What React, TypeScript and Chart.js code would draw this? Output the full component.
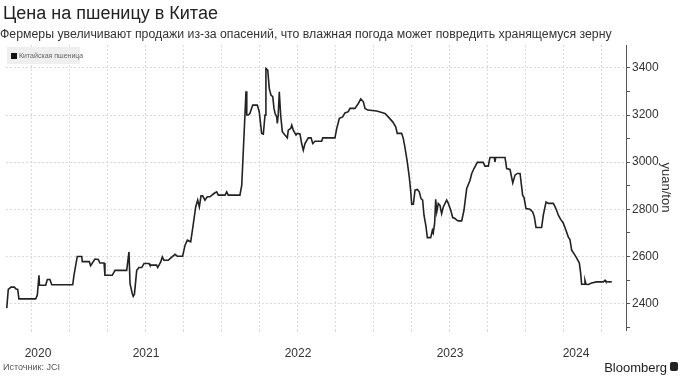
import React, { useEffect, useRef } from "react";
import { Chart, registerables } from "chart.js";

Chart.register(...registerables);

const TITLE = "Цена на пшеницу в Китае";
const SUBTITLE =
  "Фермеры увеличивают продажи из-за опасений, что влажная погода может повредить хранящемуся зерну";
const SERIES_NAME = "Китайская пшеница";
const SOURCE = "Источник: JCI";
const BRAND = "Bloomberg";
const Y_TITLE = "yuan/ton";

const YEAR_LABELS = [2020, 2021, 2022, 2023, 2024];
const Y_TICKS = [2400, 2600, 2800, 3000, 3200, 3400];
const Y_MINOR_STEP = 100;
const X_MIN = 2020.579;
const X_MAX = 2024.658;
const Y_MIN = 2288;
const Y_MAX = 3497;

// dates as decimal years
const DATES = [
  2020.584, 2020.594, 2020.612, 2020.634, 2020.645, 2020.656, 2020.664, 2020.774, 2020.785, 2020.796,
  2020.799, 2020.84, 2020.851, 2020.868, 2020.88, 2021.018, 2021.026, 2021.048, 2021.077, 2021.081,
  2021.127, 2021.136, 2021.164, 2021.186, 2021.197, 2021.224, 2021.23, 2021.278, 2021.296, 2021.373,
  2021.388, 2021.395, 2021.41, 2021.416, 2021.424, 2021.439, 2021.454, 2021.472, 2021.487, 2021.52,
  2021.526, 2021.57, 2021.577, 2021.597, 2021.607, 2021.618, 2021.647, 2021.658, 2021.691, 2021.706,
  2021.741, 2021.757, 2021.772, 2021.794, 2021.807, 2021.827, 2021.84, 2021.851, 2021.862, 2021.873,
  2021.888, 2021.903, 2021.921, 2021.947, 2021.965, 2021.976, 2022.02, 2022.031, 2022.041, 2022.118,
  2022.13, 2022.14, 2022.151, 2022.158, 2022.163, 2022.173, 2022.184, 2022.202, 2022.232, 2022.245,
  2022.261, 2022.272, 2022.283, 2022.289, 2022.301, 2022.311, 2022.322, 2022.334, 2022.342, 2022.349,
  2022.36, 2022.364, 2022.37, 2022.377, 2022.386, 2022.397, 2022.414, 2022.43, 2022.436, 2022.452,
  2022.459, 2022.469, 2022.487, 2022.495, 2022.513, 2022.524, 2022.535, 2022.546, 2022.568, 2022.586,
  2022.597, 2022.612, 2022.656, 2022.663, 2022.743, 2022.755, 2022.772, 2022.794, 2022.809, 2022.831,
  2022.842, 2022.875, 2022.897, 2022.913, 2022.93, 2022.941, 2022.959, 2023.018, 2023.051, 2023.072,
  2023.094, 2023.123, 2023.143, 2023.153, 2023.182, 2023.193, 2023.204, 2023.219, 2023.232, 2023.241,
  2023.248, 2023.259, 2023.27, 2023.285, 2023.298, 2023.309, 2023.32, 2023.329, 2023.342, 2023.351,
  2023.373, 2023.384, 2023.39, 2023.399, 2023.406, 2023.413, 2023.423, 2023.434, 2023.445, 2023.456,
  2023.478, 2023.489, 2023.505, 2023.518, 2023.533, 2023.544, 2023.555, 2023.577, 2023.592, 2023.61,
  2023.632, 2023.643, 2023.658, 2023.68, 2023.719, 2023.73, 2023.752, 2023.763, 2023.791, 2023.796,
  2023.801, 2023.862, 2023.873, 2023.895, 2023.913, 2023.928, 2023.943, 2023.961, 2023.978, 2023.987,
  2024.0, 2024.026, 2024.044, 2024.055, 2024.066, 2024.103, 2024.114, 2024.132, 2024.147, 2024.18,
  2024.197, 2024.213, 2024.228, 2024.245, 2024.263, 2024.278, 2024.289, 2024.301, 2024.316, 2024.329,
  2024.351, 2024.36, 2024.366, 2024.382, 2024.388, 2024.395, 2024.41, 2024.432, 2024.465, 2024.509,
  2024.52, 2024.526, 2024.564,
];

// yuan/ton
const PRICES = [
  2381, 2460, 2470, 2470, 2462, 2460, 2420, 2420, 2435, 2520,
  2478, 2478, 2502, 2502, 2480, 2480, 2520, 2600, 2600, 2578,
  2578, 2561, 2589, 2587, 2572, 2572, 2520, 2520, 2541, 2541,
  2619, 2485, 2442, 2431, 2440, 2541, 2553, 2553, 2570, 2570,
  2563, 2563, 2553, 2577, 2598, 2584, 2584, 2591, 2609, 2601,
  2601, 2648, 2669, 2662, 2718, 2810, 2839, 2810, 2857, 2857,
  2839, 2853, 2853, 2867, 2874, 2860, 2860, 2874, 2860, 2860,
  2902, 3044, 3200, 3301, 3200, 3200, 3207, 3242, 3242, 3214,
  3122, 3119, 3200, 3397, 3390, 3313, 3285, 3278, 3228, 3207,
  3192, 3164, 3200, 3298, 3200, 3129, 3115, 3103, 3136, 3143,
  3157, 3136, 3115, 3122, 3120, 3079, 3051, 3079, 3103, 3103,
  3079, 3089, 3089, 3103, 3103, 3143, 3186, 3192, 3209, 3214,
  3228, 3228, 3249, 3268, 3256, 3228, 3221, 3217, 3211, 3207,
  3192, 3171, 3150, 3122, 3122, 3100, 3062, 3001, 2938, 2881,
  2822, 2822, 2881, 2884, 2874, 2846, 2839, 2775, 2728, 2680,
  2680, 2711, 2700, 2740, 2842, 2789, 2825, 2817, 2782, 2810,
  2839, 2825, 2796, 2765, 2761, 2754, 2751, 2751, 2796, 2888,
  2923, 2952, 2973, 2999, 2999, 2983, 2983, 3020, 3020, 3001,
  3020, 3020, 2973, 2969, 2912, 2945, 2952, 2952, 2860, 2850,
  2803, 2800, 2789, 2768, 2723, 2723, 2775, 2831, 2825, 2825,
  2803, 2775, 2757, 2742, 2711, 2683, 2672, 2626, 2612, 2598,
  2572, 2527, 2482, 2482, 2499, 2482, 2481, 2487, 2492, 2492,
  2499, 2493, 2492,
];

const FONT = "'Liberation Sans', Arial, Helvetica, sans-serif";
const GRID = "#dadada";

export default function App() {
  const ref = useRef<HTMLCanvasElement | null>(null);

  useEffect(() => {
    if (!ref.current) return;

    // quarter grid positions
    const quarters: number[] = [];
    for (let q = Math.ceil(X_MIN * 4) / 4; q < X_MAX; q += 0.25) quarters.push(+q.toFixed(2));
    // year label positions: middle of visible span of each year
    const labelPos = YEAR_LABELS.map((y) => (Math.max(y, X_MIN) + Math.min(y + 1, X_MAX)) / 2);
    const findLabel = (v: number) => {
      const i = labelPos.findIndex((p) => Math.abs(p - v) < 0.01);
      return i >= 0 ? String(YEAR_LABELS[i]) : "";
    };
    const isQuarter = (v: number) => quarters.some((q) => Math.abs(q - v) < 0.001);
    const xTicks = Array.from(new Set([...quarters, ...labelPos.map((p) => +p.toFixed(4))])).sort(
      (a, b) => a - b
    );
    const mergedTicks: number[] = [];
    xTicks.forEach((v) => {
      if (!mergedTicks.some((m) => Math.abs(m - v) < 0.01)) mergedTicks.push(v);
    });

    const yTicks: number[] = [];
    for (let v = Math.ceil(Y_MIN / Y_MINOR_STEP) * Y_MINOR_STEP; v <= Y_MAX; v += Y_MINOR_STEP) yTicks.push(v);

    const chart = new Chart(ref.current, {
      type: "line",
      data: {
        datasets: [
          {
            label: SERIES_NAME,
            data: DATES.map((d, i) => ({ x: d, y: PRICES[i] })),
            borderColor: "#222",
            borderWidth: 1.6,
            pointRadius: 0,
            tension: 0,
            fill: false,
          },
        ],
      },
      options: {
        animation: false,
        responsive: false,
        maintainAspectRatio: false,
        layout: { padding: { top: 45, left: 6, right: 0, bottom: 8 } },
        plugins: { legend: { display: false }, tooltip: { enabled: false } },
        scales: {
          x: {
            type: "linear",
            min: X_MIN,
            max: X_MAX,
            position: "bottom",
            afterBuildTicks: (s: any) => {
              s.ticks = mergedTicks.map((v) => ({ value: v }));
            },
            afterFit: (s: any) => {
              s.height = 40;
            },
            ticks: {
              autoSkip: false,
              maxRotation: 0,
              minRotation: 0,
              padding: 12,
              color: "#333",
              font: { size: 12, family: FONT },
              callback: (v: any) => findLabel(Number(v)),
            },
            grid: {
              color: (c: any) => (c.tick && isQuarter(c.tick.value) ? GRID : "transparent"),
              tickColor: (c: any) => (c.tick && isQuarter(c.tick.value) ? GRID : "transparent"),
              tickLength: 4,
              tickBorderDash: [2, 2],
              lineWidth: 1,
            },
            border: { display: false, dash: [2, 2] },
          },
          y: {
            type: "linear",
            position: "right",
            min: Y_MIN,
            max: Y_MAX,
            afterBuildTicks: (s: any) => {
              s.ticks = yTicks.map((v) => ({ value: v }));
            },
            afterFit: (s: any) => {
              s.width = 54;
            },
            ticks: {
              padding: 2,
              color: "#333",
              font: { size: 12, family: FONT },
              callback: (v: any) => (Y_TICKS.includes(Number(v)) ? String(v) : ""),
            },
            grid: {
              color: (c: any) => (c.tick && Y_TICKS.includes(c.tick.value) ? GRID : "transparent"),
              tickColor: "#555",
              tickLength: 4,
              lineWidth: 1,
            },
            border: { display: true, color: "#555", width: 1, dash: [2, 2] },
            title: {
              display: true,
              text: Y_TITLE,
              color: "#333",
              font: { size: 13, family: FONT },
              padding: { top: 7, bottom: 0 },
            },
          },
        },
      },
    });
    return () => chart.destroy();
  }, []);

  return (
    <div
      style={{
        position: "absolute",
        left: 0,
        top: 0,
        width: 680,
        height: 378,
        background: "#fff",
        fontFamily: FONT,
        overflow: "hidden",
      }}
    >
      <canvas ref={ref} width={680} height={378} style={{ position: "absolute", left: 0, top: 0, width: 680, height: 378 }} />
      <div style={{ position: "absolute", left: 3, top: 3, fontSize: 18, lineHeight: "21px", color: "#222", whiteSpace: "nowrap" }}>
        {TITLE}
      </div>
      <div
        style={{
          position: "absolute",
          left: 0,
          top: 27,
          width: 612,
          overflow: "hidden",
          fontSize: 12.3,
          lineHeight: "14px",
          color: "#333",
          whiteSpace: "nowrap",
        }}
      >
        {SUBTITLE}
      </div>
      <div
        style={{
          position: "absolute",
          left: 7,
          top: 47,
          width: 73,
          height: 17,
          background: "#efefef",
        }}
      >
        <div style={{ position: "absolute", left: 4, top: 6, width: 6, height: 6, background: "#111" }} />
        <div
          style={{
            position: "absolute",
            left: 12,
            top: 4,
            fontSize: 7,
            lineHeight: "9px",
            color: "#666",
            whiteSpace: "nowrap",
          }}
        >
          {SERIES_NAME}
        </div>
      </div>
      <div style={{ position: "absolute", left: 3, top: 362, fontSize: 9, lineHeight: "11px", color: "#555" }}>
        {SOURCE}
      </div>
      <div
        style={{
          position: "absolute",
          right: 13,
          top: 360,
          fontSize: 13,
          lineHeight: "16px",
          color: "#222",
        }}
      >
        {BRAND}
      </div>
      <div
        style={{
          position: "absolute",
          left: 670,
          top: 362,
          width: 8,
          height: 9,
          borderRadius: 2,
          background: "#222",
        }}
      />
    </div>
  );
}
